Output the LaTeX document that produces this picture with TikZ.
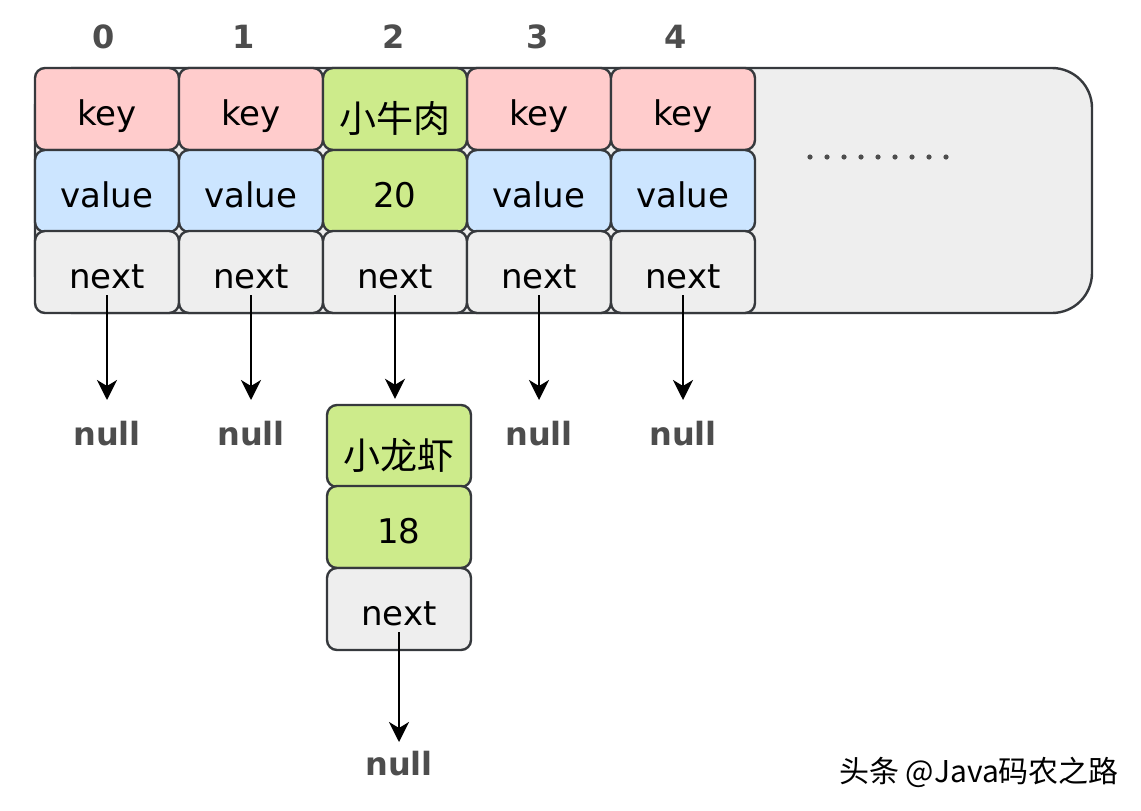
\documentclass[tikz,border=0pt]{standalone}
\usepackage{fontspec}
\setmainfont{DejaVu Sans}
\newfontfamily\cjk{Noto Sans CJK SC}
\usetikzlibrary{arrows.meta}
\definecolor{strk}{HTML}{36393D}
\definecolor{keyc}{HTML}{FFCCCC}
\definecolor{valc}{HTML}{CCE5FF}
\definecolor{grnc}{HTML}{CDEB8B}
\definecolor{nxtc}{HTML}{EEEEEE}
\definecolor{lblc}{HTML}{4D4D4D}
\newcommand{\zh}[1]{\raisebox{-7pt}{\cjk\fontsize{37}{40}\selectfont #1}}

\begin{document}
\begin{tikzpicture}[x=1pt,y=-1pt,
  cell/.style={draw=strk,line width=2.4pt,rounded corners=10pt,minimum width=144pt,minimum height=82pt,inner sep=0pt,text height=32pt,text depth=0pt,font=\fontsize{34}{38}\selectfont},
  lbl/.style={text=lblc,font=\fontsize{32}{36}\selectfont\bfseries},
  ptr/.style={line width=2.2pt,-{Stealth[length=20pt,width=20pt,inset=6pt]}}]
\useasboundingbox (0,0) rectangle (1141,811);
\draw[strk,fill=nxtc,line width=2.4pt,rounded corners=40pt] (35,68) rectangle (1092,313);
\foreach \i/\lx in {0/104,1/244,2/394,3/538,4/676}
  \node[lbl] (idx\i) at (\lx,37) {\i};
% bucket array
\foreach \i in {0,1,3,4}{
  \node[cell,fill=keyc] (k\i) at (107+144*\i,109) {key};
  \node[cell,fill=valc] (v\i) at (107+144*\i,191) {value};
}
\node[cell,fill=grnc] (k2) at (395,109) {\zh{小牛肉}};
\node[cell,fill=grnc] (v2) at (395,191) {20};
\foreach \i in {0,...,4}
  \node[cell,fill=nxtc] (n\i) at (107+144*\i,272) {next};
\foreach \k in {0,...,8}
  \fill[lblc] (810+17*\k,157) circle (2.6pt);
% null pointers
\foreach \i in {0,1,3,4}{
  \node[lbl] (null\i) at (107+144*\i,434) {null};
  \draw[ptr] ([yshift=-23pt]n\i.center) -- ([yshift=34pt]null\i.center);
}
% chained entry
\node[cell,fill=grnc] (ck) at (399,446) {\zh{小龙虾}};
\node[cell,fill=grnc] (cv) at (399,527) {18};
\node[cell,fill=nxtc] (cn) at (399,609) {next};
\node[lbl] (cnull) at (399,764) {null};
\draw[ptr,shorten >=5pt] ([yshift=-23pt]n2.center) -- (n2.center |- ck.north);
\draw[ptr] ([yshift=-23pt]cn.center) -- ([yshift=22pt]cnull.center);
\node (wm) at (979,772) {\cjk\fontsize{30}{34}\selectfont 头条 @Java码农之路};
\end{tikzpicture}
\end{document}
